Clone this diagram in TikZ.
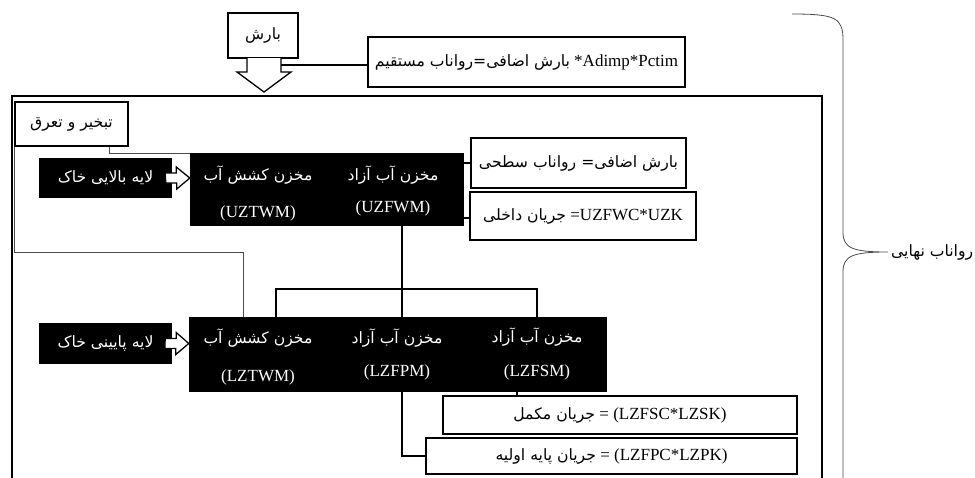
\documentclass[tikz,border=0pt]{standalone}
\usepackage{fontspec}
\setmainfont{Liberation Serif}
\newfontfamily\arabicfont[Script=Arabic,Scale=0.92]{DejaVu Sans}
\TeXXeTstate=1
\usetikzlibrary{positioning}
\newcommand{\fatext}[1]{{\arabicfont\beginR #1\endR}}

\begin{document}
\begin{tikzpicture}[x=1pt, y=-1pt, font=\fontsize{17}{20}\selectfont,
    wbox/.style={draw, line width=1.4pt, fill=white, inner sep=0pt},
    bbox/.style={fill=black, text=white, inner sep=0pt},
    wtext/.style={text=white, inner sep=0pt},
    link/.style={line width=1.2pt},
    thinlink/.style={line width=0.8pt, black!70},
    harrow/.style={draw, fill=white, line width=1.3pt}]
    \useasboundingbox (0,0) rectangle (975,477);

    % outer frame and brace
    \draw[link] (12,490) |- (822,96) -- (822,490);
    \coordinate (bracetip) at (888,252);
    \draw[thinlink] (792,14) .. controls (836,14) and (843,18) .. (843,40) -- (843,232)
        .. controls (843,248) and (852,252) .. (bracetip)
        .. controls (852,252) and (843,256) .. (843,272) -- (843,490);
    \node[inner sep=0pt, right=3pt of bracetip] (final) {\fatext{رواناب نهایی}};

    % precipitation
    \node[wbox, minimum width=70pt, minimum height=45pt] (rain) at (263,35.5) {\fatext{بارش}};
    \node[wbox, minimum width=317pt, minimum height=50pt] (direct) at (526.5,62)
        {\fatext{بارش اضافی=رواناب مستقیم} *Adimp*Pctim};
    \draw[harrow] (247,58) -- (247,72) -- (237,72) -- (264,92) -- (291,72) -- (281,72) -- (281,58);
    \coordinate (rainarrow) at (281,65);
    \draw[link] (rainarrow) -- (rainarrow -| direct.west);

    % upper zone
    \node[wbox, minimum width=113pt, minimum height=44pt] (evap) at (71.5,124) {\fatext{تبخیر و تعرق}};
    \node[bbox, minimum width=274pt, minimum height=73pt] (uz) at (327,189.5) {};
    \node[wtext] (uztw) at (258,175) {\fatext{مخزن کشش آب}};
    \node[wtext] (uztwm) at (258,213) {(UZTWM)};
    \node[wtext] (uzfw) at (393,175) {\fatext{مخزن آب آزاد}};
    \node[wtext] (uzfwm) at (393,208) {(UZFWM)};
    \node[bbox, minimum width=133pt, minimum height=40pt] (usoil) at (105.5,178) {\fatext{لایه بالایی خاک}};
    \node[wbox, minimum width=215pt, minimum height=50pt] (surface) at (578.5,163) {\fatext{بارش اضافی= رواناب سطحی}};
    \node[wbox, minimum width=226pt, minimum height=48pt] (inter) at (583,216) {\fatext{جریان داخلی} =UZFWC*UZK};
    \draw[link] (uz.east |- surface) -- (surface.west);
    \draw[link] (uz.east |- 0,218) -- (inter.west |- 0,218);

    % lower zone
    \node[bbox, minimum width=418pt, minimum height=75pt] (lz) at (398,354.5) {};
    \node[wtext] (lztw) at (258,338) {\fatext{مخزن کشش آب}};
    \node[wtext] (lztwm) at (258,377) {(LZTWM)};
    \node[wtext] (lzfp) at (397,338) {\fatext{مخزن آب آزاد}};
    \node[wtext] (lzfpm) at (397,372) {(LZFPM)};
    \node[wtext] (lzfs) at (537,337) {\fatext{مخزن آب آزاد}};
    \node[wtext] (lzfsm) at (537,372) {(LZFSM)};
    \node[bbox, minimum width=133pt, minimum height=41pt] (lsoil) at (105.5,343.5) {\fatext{لایه پایینی خاک}};
    \node[wbox, minimum width=354pt, minimum height=38pt] (fsc) at (620,415) {\fatext{جریان مکمل} = (LZFSC*LZSK)};
    \node[wbox, minimum width=371pt, minimum height=36pt] (fpc) at (611.5,456) {\fatext{جریان پایه اولیه} = (LZFPC*LZPK)};

    % soil arrows
    \draw[harrow] ([xshift=-7pt,yshift=5pt]usoil.east) -- ++(11,0) -- ++(0,-6)
        -- (usoil.east -| uz.west) -- ++(-13,11) -- ++(0,-6) -- ++(-11,0) -- cycle;
    \draw[harrow] ([xshift=-7pt,yshift=5pt]lsoil.east) -- ++(11,0) -- ++(0,-6)
        -- (lsoil.east -| lz.west) -- ++(-13,11) -- ++(0,-6) -- ++(-11,0) -- cycle;

    % connectors
    \coordinate (split) at (402,289);
    \coordinate (splitl) at (276,289);
    \coordinate (splitr) at (537,289);
    \coordinate (evapturn) at (243,252);
    \coordinate (fsdrop) at (517,0);
    \draw[link] (uz.south -| split) -- (lz.north -| split);
    \draw[link] (lz.north -| splitl) |- (splitr) -- (lz.north -| splitr);
    \draw[thinlink] ([xshift=37.5pt]evap.south) |- ([yshift=-1pt]uz.north west);
    \draw[thinlink] (evap.south west) |- (evapturn) -- (evapturn |- lz.north);
    \draw[link] (lz.south -| fsdrop) -- (fsc.north -| fsdrop);
    \draw[link] (lz.south -| split) |- (fpc.west);
\end{tikzpicture}
\end{document}
